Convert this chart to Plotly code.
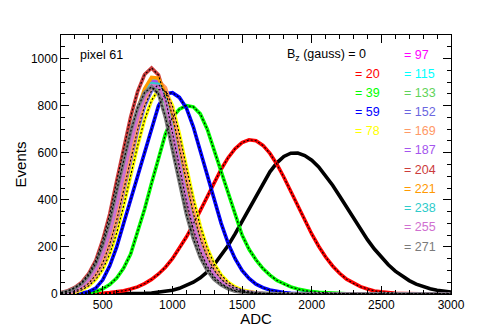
import plotly.graph_objects as go

# ADC bin centres (50 ADC wide bins)
adc = list(range(200, 3001, 50))

# field values (gauss) and the colour used for each one
bz_values = [0, 20, 39, 59, 78, 97, 115, 133, 152, 169, 187, 204, 221, 238, 255, 271]
bz_colors = ["#000000", "#ff0000", "#00ff00", "#0000ff", "#ffff00", "#ff00ff", "#00ffff",
             "#5fd35a", "#6a66e0", "#ff9966", "#a455ee", "#cc3b3b", "#ff9900", "#2ecbcb",
             "#d070d0", "#7a7a7a"]
# fields whose fitted curve stays visible above the others
fit_shown = [0, 20, 39, 59, 78, 152, 204, 271]

# events per bin
ev_0 = [0, 0, 0, 0, 0, 0, 0, 0, 0, 0,
        1, 2, 3, 4, 7, 10, 16, 24, 35, 50,
        69, 94, 125, 163, 206, 255, 308, 364, 419, 472,
        519, 557, 584, 598, 599, 588, 568, 540, 504, 462,
        416, 369, 321, 275, 231, 191, 155, 124, 97, 75,
        57, 42, 31, 22, 16, 11, 8]
ev_20 = [0, 0, 0, 1, 1, 2, 3, 6, 9, 14,
         21, 30, 44, 62, 85, 114, 150, 193, 242, 296,
         355, 415, 475, 530, 579, 617, 643, 655, 651, 631,
         597, 551, 496, 436, 374, 312, 255, 203, 157, 119,
         88, 63, 45, 31, 21, 13, 9, 5, 3, 2,
         1, 0, 0, 0, 0, 0, 0]
ev_39 = [0, 0, 1, 2, 5, 11, 22, 40, 68, 110,
         170, 260, 360, 470, 570, 680, 750, 785, 800, 795,
         765, 700, 610, 520, 420, 330, 250, 190, 145, 108,
         80, 58, 42, 30, 21, 14, 10, 7, 5, 3,
         2, 1, 1, 0, 0, 0, 0, 0, 0, 0,
         0, 0, 0, 0, 0, 0, 0]
ev_59 = [0, 0, 1, 4, 10, 25, 60, 120, 200, 300,
         400, 500, 600, 700, 800, 850, 855, 835, 790, 710,
         605, 500, 400, 300, 215, 150, 100, 66, 42, 27,
         17, 10, 6, 3, 2, 1, 0, 0, 0, 0,
         0, 0, 0, 0, 0, 0, 0, 0, 0, 0,
         0, 0, 0, 0, 0, 0, 0]
ev_78 = [1, 3, 8, 18, 35, 62, 105, 170, 260, 375,
         505, 630, 740, 822, 868, 865, 800, 680, 540, 405,
         288, 195, 128, 81, 50, 30, 17, 10, 5, 3,
         1, 0, 0, 0, 0, 0, 0, 0, 0, 0,
         0, 0, 0, 0, 0, 0, 0, 0, 0, 0,
         0, 0, 0, 0, 0, 0, 0]
ev_97 = [2, 5, 12, 26, 46, 82, 133, 214, 316, 449,
         581, 704, 806, 872, 898, 867, 765, 622, 479, 347,
         240, 158, 102, 63, 39, 22, 12, 7, 4, 2,
         1, 0, 0, 0, 0, 0, 0, 0, 0, 0,
         0, 0, 0, 0, 0, 0, 0, 0, 0, 0,
         0, 0, 0, 0, 0, 0, 0]
ev_115 = [3, 8, 19, 37, 65, 110, 179, 273, 394, 530,
          662, 777, 863, 911, 908, 840, 714, 567, 425, 302,
          205, 134, 85, 53, 32, 18, 11, 5, 3, 1,
          0, 0, 0, 0, 0, 0, 0, 0, 0, 0,
          0, 0, 0, 0, 0, 0, 0, 0, 0, 0,
          0, 0, 0, 0, 0, 0, 0]
ev_133 = [3, 8, 18, 35, 63, 106, 172, 263, 379, 510,
          636, 747, 830, 877, 874, 808, 687, 545, 409, 291,
          197, 129, 82, 51, 30, 17, 10, 5, 3, 1,
          0, 0, 0, 0, 0, 0, 0, 0, 0, 0,
          0, 0, 0, 0, 0, 0, 0, 0, 0, 0,
          0, 0, 0, 0, 0, 0, 0]
ev_152 = [2, 5, 13, 25, 46, 81, 132, 212, 313, 444,
          576, 697, 798, 864, 889, 858, 758, 616, 475, 343,
          237, 157, 101, 63, 38, 22, 12, 7, 4, 2,
          1, 0, 0, 0, 0, 0, 0, 0, 0, 0,
          0, 0, 0, 0, 0, 0, 0, 0, 0, 0,
          0, 0, 0, 0, 0, 0, 0]
ev_169 = [2, 5, 12, 26, 46, 82, 134, 216, 319, 453,
          587, 711, 814, 881, 906, 876, 773, 628, 484, 350,
          242, 160, 103, 64, 39, 23, 12, 7, 4, 2,
          1, 0, 0, 0, 0, 0, 0, 0, 0, 0,
          0, 0, 0, 0, 0, 0, 0, 0, 0, 0,
          0, 0, 0, 0, 0, 0, 0]
ev_187 = [3, 8, 19, 36, 64, 109, 177, 270, 390, 525,
          655, 770, 855, 903, 900, 832, 707, 562, 421, 300,
          203, 133, 84, 52, 31, 18, 10, 5, 3, 1,
          0, 0, 0, 0, 0, 0, 0, 0, 0, 0,
          0, 0, 0, 0, 0, 0, 0, 0, 0, 0,
          0, 0, 0, 0, 0, 0, 0]
ev_204 = [6, 14, 28, 50, 88, 143, 230, 340, 480, 620,
          752, 860, 932, 960, 930, 830, 690, 540, 395, 275,
          182, 118, 73, 45, 26, 14, 8, 4, 2, 1,
          0, 0, 0, 0, 0, 0, 0, 0, 0, 0,
          0, 0, 0, 0, 0, 0, 0, 0, 0, 0,
          0, 0, 0, 0, 0, 0, 0]
ev_221 = [3, 8, 19, 37, 66, 111, 180, 276, 398, 535,
          668, 784, 871, 920, 917, 848, 721, 572, 429, 305,
          207, 136, 86, 53, 32, 18, 11, 5, 3, 1,
          0, 0, 0, 0, 0, 0, 0, 0, 0, 0,
          0, 0, 0, 0, 0, 0, 0, 0, 0, 0,
          0, 0, 0, 0, 0, 0, 0]
ev_238 = [4, 9, 19, 37, 65, 110, 178, 270, 388, 520,
          650, 762, 846, 893, 890, 824, 700, 556, 417, 297,
          200, 132, 83, 52, 31, 18, 10, 5, 3, 1,
          0, 0, 0, 0, 0, 0, 0, 0, 0, 0,
          0, 0, 0, 0, 0, 0, 0, 0, 0, 0,
          0, 0, 0, 0, 0, 0, 0]
ev_255 = [3, 8, 18, 36, 63, 107, 173, 265, 383, 515,
          643, 755, 838, 885, 882, 816, 694, 551, 413, 294,
          199, 131, 83, 51, 31, 17, 10, 5, 3, 1,
          0, 0, 0, 0, 0, 0, 0, 0, 0, 0,
          0, 0, 0, 0, 0, 0, 0, 0, 0, 0,
          0, 0, 0, 0, 0, 0, 0]
ev_271 = [5, 12, 25, 45, 80, 130, 210, 310, 440, 570,
          690, 790, 855, 880, 850, 750, 610, 470, 340, 235,
          155, 100, 62, 38, 22, 12, 7, 4, 2, 1,
          0, 0, 0, 0, 0, 0, 0, 0, 0, 0,
          0, 0, 0, 0, 0, 0, 0, 0, 0, 0,
          0, 0, 0, 0, 0, 0, 0]

events = [ev_0, ev_20, ev_39, ev_59, ev_78, ev_97, ev_115, ev_133, ev_152,
          ev_169, ev_187, ev_204, ev_221, ev_238, ev_255, ev_271]
for ev in events:
    assert len(ev) == len(adc), len(ev)

font = "Liberation Sans, Arial, Helvetica, sans-serif"

fig = go.Figure()
for bz, col, ev in zip(bz_values, bz_colors, events):
    fig.add_trace(go.Scatter(x=adc, y=ev, mode="lines", name=f"{bz}",
                             line=dict(color=col, width=3.6)))
# fitted curves on top, black dashed
for bz, ev in zip(bz_values, events):
    if bz in fit_shown:
        fig.add_trace(go.Scatter(x=adc, y=ev, mode="lines", name=f"fit {bz}",
                                 line=dict(color="black", width=1.1, dash="2px,2px")))

# paper coords of the plot frame: x 61..451 px, y 35..294 px
def px(xp):
    return (xp - 61) / 390

def py(yp):
    return (294 - yp) / 259

ann = [dict(text="pixel 61", x=px(78), y=py(55), xanchor="left", font_color="black"),
       dict(text="B<sub>z</sub> (gauss) = 0", x=px(368), y=py(55), xanchor="right", font_color="black")]
rows1 = [74, 93, 112, 131]
for i, yy in enumerate(rows1):
    ann.append(dict(text=f"= {bz_values[i + 1]}", x=px(353), y=py(yy), xanchor="left",
                    font_color=bz_colors[i + 1]))
rows2 = [55, 74, 93, 112, 131, 150, 170, 189, 208, 227, 247]
for i, yy in enumerate(rows2):
    ann.append(dict(text=f"= {bz_values[i + 5]}", x=px(402), y=py(yy), xanchor="left",
                    font_color=bz_colors[i + 5]))
for a in ann:
    a.update(xref="paper", yref="paper", yanchor="middle", showarrow=False,
             font_size=12.5, font_family=font)

axis_common = dict(showline=True, linecolor="black", linewidth=1, mirror="ticks",
                   ticks="inside", ticklen=8, tickcolor="black", tickwidth=1,
                   showgrid=False, zeroline=False, automargin=False,
                   tickfont=dict(size=12, color="black"))

fig.update_layout(
    width=480, height=327,
    margin=dict(l=61, r=29, t=35, b=33),
    paper_bgcolor="white", plot_bgcolor="white",
    showlegend=False,
    font=dict(family=font, color="black"),
    annotations=ann,
    xaxis=dict(range=[200, 3000], dtick=500, tick0=0,
               minor=dict(dtick=100, ticklen=4, ticks="inside", tickcolor="black"),
               title=dict(text="ADC", font=dict(size=15), standoff=2), **axis_common),
    yaxis=dict(range=[0, 1100], dtick=200, tick0=0,
               minor=dict(dtick=50, ticklen=4, ticks="inside", tickcolor="black"),
               title=dict(text="Events", font=dict(size=15), standoff=0), **axis_common),
)

# drop the browser's default page margin so the figure sits at the window corner
fig.write_html("out.html", config={"displayModeBar": False},
               post_script="document.body.style.margin = '0';")
